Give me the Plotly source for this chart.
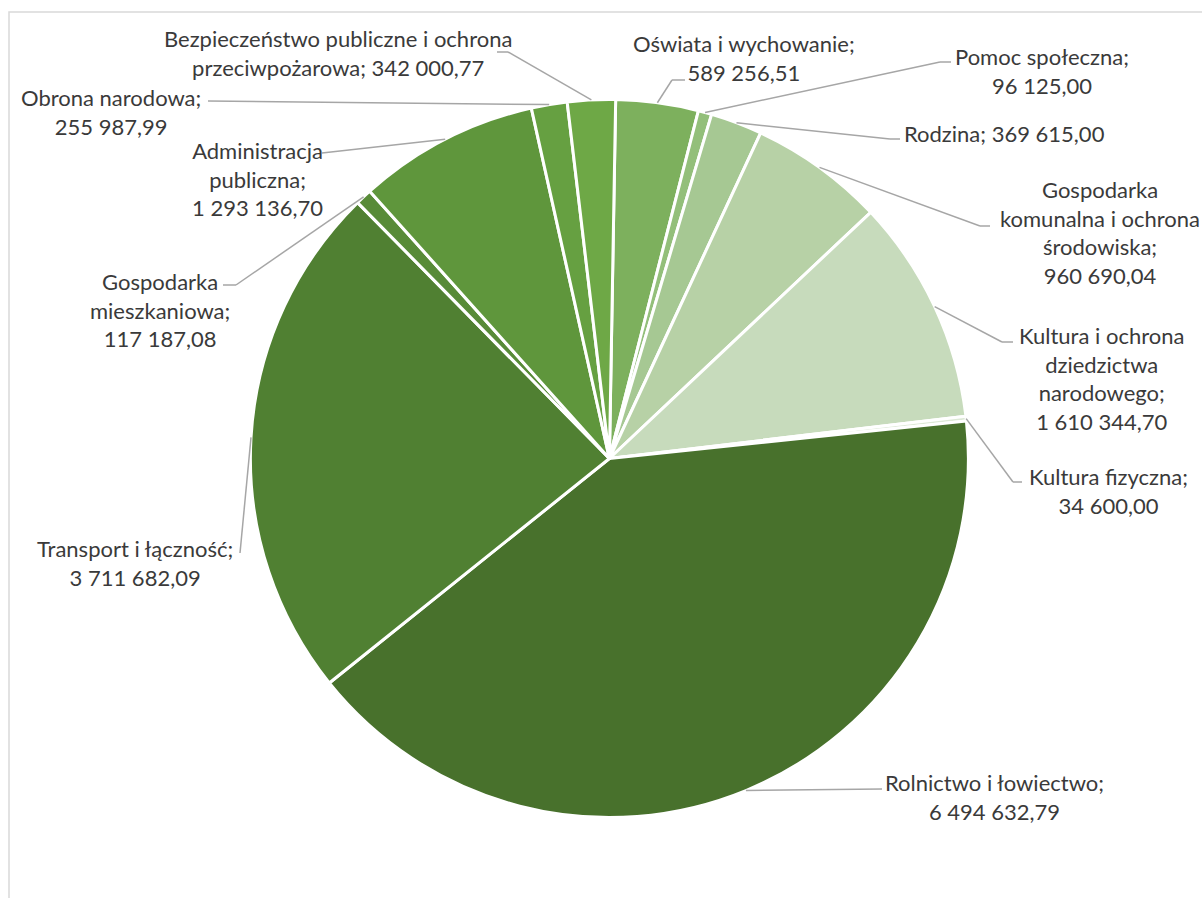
import math
import plotly.graph_objects as go

# ---------------- data ----------------
categories = [
    "Oświata i wychowanie",
    "Pomoc społeczna",
    "Rodzina",
    "Gospodarka komunalna i ochrona środowiska",
    "Kultura i ochrona dziedzictwa narodowego",
    "Kultura fizyczna",
    "Rolnictwo i łowiectwo",
    "Transport i łączność",
    "Gospodarka mieszkaniowa",
    "Administracja publiczna",
    "Obrona narodowa",
    "Bezpieczeństwo publiczne i ochrona przeciwpożarowa",
]
values = [
    589256.51,
    96125.00,
    369615.00,
    960690.04,
    1610344.70,
    34600.00,
    6494632.79,
    3711682.09,
    117187.08,
    1293136.70,
    255987.99,
    342000.77,
]
# wrapped label names (as displayed)
label_names = [
    "Oświata i wychowanie;",
    "Pomoc społeczna;",
    "Rodzina;",
    "Gospodarka<br>komunalna i ochrona<br>środowiska;",
    "Kultura i ochrona<br>dziedzictwa<br>narodowego;",
    "Kultura fizyczna;",
    "Rolnictwo i łowiectwo;",
    "Transport i łączność;",
    "Gospodarka<br>mieszkaniowa;",
    "Administracja<br>publiczna;",
    "Obrona narodowa;",
    "Bezpieczeństwo publiczne i ochrona<br>przeciwpożarowa;",
]
# separator between name and value: line break or space
label_sep = ["<br>", "<br>", " ", "<br>", "<br>", "<br>", "<br>", "<br>", "<br>", "<br>", "<br>", " "]

# ---------------- styles / layout ----------------
colors = [
    "#7DB05D", "#93BF7A", "#A6C893", "#B7D1A6", "#C7DBBC", "#DDE9D6",
    "#48712C", "#508032", "#588B38", "#5F963C", "#66A041", "#6EA846",
]
W, H = 1202, 898
CX, CY, R = 609.4, 458.5, 359.0
ROTATION = 1.0

# label block centers (pixels)
label_pos = [
    (744, 58), (1042, 71), (1004, 133), (1100, 232), (1101, 378), (1108, 491),
    (994, 797), (135, 563), (160, 310), (257, 179), (111, 112), (338, 53),
]
# leader line points after the slice edge point (pixels)
leader_pts = [
    [(672, 80), (685, 80)],
    [(940, 62), (951, 62)],
    [(890, 139), (900, 139)],
    [(980, 226), (990, 226)],
    [(1002, 342), (1013, 342)],
    [(1013, 482), (1022, 482)],
    [(882, 789)],
    [(240, 553)],
    [(236, 285), (223, 285)],
    [(322, 153)],
    [(208, 101)],
    [(508, 52), (497, 52)],
]


def fmt_pl(v):
    s = f"{v:,.2f}"
    return s.replace(",", " ").replace(".", ",")


def px(x):
    return x / W


def py(y):
    return 1 - y / H


fig = go.Figure()
fig.add_trace(go.Pie(
    labels=categories,
    values=values,
    sort=False,
    direction="clockwise",
    rotation=ROTATION,
    textinfo="none",
    marker=dict(colors=colors, line=dict(color="white", width=3)),
    domain=dict(x=[px(CX - R), px(CX + R)], y=[py(CY + R), py(CY - R)]),
    showlegend=False,
    hoverinfo="label+value",
))

total = sum(values)
shapes = []
annotations = []
cum = 0.0
for i, v in enumerate(values):
    mid = math.radians(ROTATION + (cum + v / 2) / total * 360.0)
    cum += v
    ex = CX + R * math.sin(mid)
    ey = CY - R * math.cos(mid)
    pts = [(ex, ey)] + leader_pts[i]
    for (x0, y0), (x1, y1) in zip(pts[:-1], pts[1:]):
        shapes.append(dict(type="line", xref="paper", yref="paper",
                           x0=px(x0), y0=py(y0), x1=px(x1), y1=py(y1),
                           line=dict(color="#A6A6A6", width=1.5)))
    lx, ly = label_pos[i]
    annotations.append(dict(
        x=px(lx), y=py(ly), xref="paper", yref="paper",
        text=label_names[i] + label_sep[i] + fmt_pl(v),
        showarrow=False, xanchor="center", yanchor="middle", align="center",
        font=dict(family="Lato", size=22, color="#3A3A3A"),
    ))

# chart area border
shapes.append(dict(type="rect", xref="paper", yref="paper",
                   x0=px(9), y0=py(12), x1=1.02, y1=-0.02,
                   line=dict(color="#D9D9D9", width=1.5)))

fig.update_layout(
    width=W, height=H,
    margin=dict(l=0, r=0, t=0, b=0),
    paper_bgcolor="white",
    plot_bgcolor="white",
    shapes=shapes,
    annotations=annotations,
)

fig.write_html(
    "out.html",
    config={"displayModeBar": False},
    post_script="document.body.style.margin='0px';document.body.style.overflow='hidden';",
)
